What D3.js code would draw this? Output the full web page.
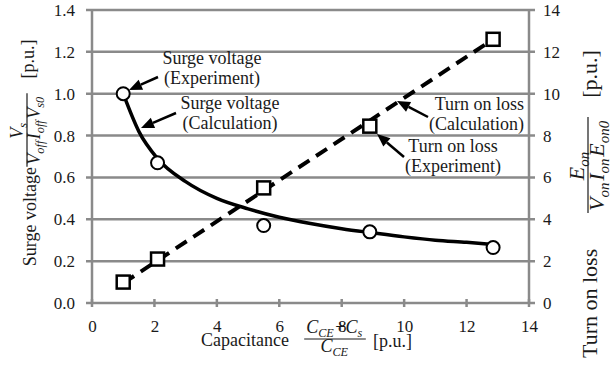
<!DOCTYPE html>
<html>
<head>
<meta charset="utf-8">
<script src="https://cdn.jsdelivr.net/npm/d3@7"></script>
<style>
  body { margin: 0; background: #fff; }
  svg, svg text { font-family: "Liberation Serif", "Times New Roman", Times, "DejaVu Serif", serif !important; }
</style>
</head>
<body>
<svg id="chart" width="614" height="369" font-family="Liberation Serif, serif"></svg>
<script>
// ---- data ----
const capTicks = [0, 2, 4, 6, 8, 10, 12, 14];
const surgeTicks = [0, 0.2, 0.4, 0.6, 0.8, 1.0, 1.2, 1.4];
const lossTicks = [0, 2, 4, 6, 8, 10, 12, 14];

// experiment points (capacitance p.u.)
const expCap = [1.0, 2.1, 5.5, 8.9, 12.85];
const surgeExp = [1.0, 0.67, 0.37, 0.34, 0.265];
const lossExp = [1.0, 2.1, 5.5, 8.45, 12.6];

// calculation curves
const surgeCalcCap = [1.0, 1.5, 2.1, 3, 4, 5, 6, 7, 8, 9, 10, 11, 12, 12.85];
const surgeCalc = [1.0, 0.82, 0.69, 0.58, 0.5, 0.45, 0.41, 0.38, 0.355, 0.335, 0.316, 0.30, 0.29, 0.28];
const lossCalcCap = [1.0, 12.85];
const lossCalc = [0.95, 12.6];

const svg = d3.select("#chart");
const pLeft = 92, pRight = 529, pTop = 10, pBottom = 303;

const x = d3.scaleLinear().domain([0, 14]).range([pLeft, pRight]);
const yL = d3.scaleLinear().domain([0, 1.4]).range([pBottom, pTop]);
const yR = d3.scaleLinear().domain([0, 14]).range([pBottom, pTop]);

const grey = "#8a8a8a";
const ink = "#1a1a1a";

// gridlines (they also make the outer ticks)
svg.append("g").selectAll("line").data(surgeTicks).join("line")
  .attr("x1", pLeft - 6).attr("x2", pRight + 6)
  .attr("y1", d => yL(d)).attr("y2", d => yL(d))
  .attr("stroke", grey).attr("stroke-width", 2.5);

// axis lines
svg.append("g").selectAll("line").data([0, 14]).join("line")
  .attr("x1", d => x(d)).attr("x2", d => x(d))
  .attr("y1", pTop).attr("y2", pBottom)
  .attr("stroke", grey).attr("stroke-width", 2.5);

// x ticks crossing the axis
svg.append("g").selectAll("line").data(capTicks).join("line")
  .attr("x1", d => x(d)).attr("x2", d => x(d))
  .attr("y1", pBottom - 4).attr("y2", pBottom + 4)
  .attr("stroke", grey).attr("stroke-width", 2.5);

// tick labels through d3 axes
function styleAxis(g) {
  g.attr("font-family", null).attr("font-size", null);
  g.select(".domain").remove();
  g.selectAll("line").remove();
  g.selectAll("text").attr("font-size", 17).attr("fill", ink);
}
svg.append("g").attr("transform", `translate(${pLeft},0)`)
  .call(d3.axisLeft(yL).tickValues(surgeTicks).tickFormat(d3.format(".1f")).tickSize(0).tickPadding(17))
  .call(styleAxis);
svg.append("g").attr("transform", `translate(${pRight},0)`)
  .call(d3.axisRight(yR).tickValues(lossTicks).tickFormat(d3.format("d")).tickSize(0).tickPadding(14))
  .call(styleAxis);
svg.append("g").attr("transform", `translate(0,${pBottom})`)
  .call(d3.axisBottom(x).tickValues(capTicks).tickFormat(d3.format("d")).tickSize(0).tickPadding(17))
  .call(styleAxis);

// ---- series ----
const lossLine = d3.line().x(d => x(d[0])).y(d => yR(d[1]));
svg.append("path")
  .datum(d3.zip(lossCalcCap, lossCalc))
  .attr("d", lossLine)
  .attr("fill", "none").attr("stroke", "#000")
  .attr("stroke-width", 4).attr("stroke-dasharray", "13,8");

const surgeLine = d3.line().x(d => x(d[0])).y(d => yL(d[1])).curve(d3.curveMonotoneX);
svg.append("path")
  .datum(d3.zip(surgeCalcCap, surgeCalc))
  .attr("d", surgeLine)
  .attr("fill", "none").attr("stroke", "#000").attr("stroke-width", 3.5);

const sq = 13;
svg.append("g").selectAll("rect").data(d3.zip(expCap, lossExp)).join("rect")
  .attr("x", d => x(d[0]) - sq / 2).attr("y", d => yR(d[1]) - sq / 2)
  .attr("width", sq).attr("height", sq)
  .attr("fill", "#fff").attr("stroke", "#000").attr("stroke-width", 2.5);

svg.append("g").selectAll("circle").data(d3.zip(expCap, surgeExp)).join("circle")
  .attr("cx", d => x(d[0])).attr("cy", d => yL(d[1])).attr("r", 6.5)
  .attr("fill", "#fff").attr("stroke", "#000").attr("stroke-width", 2);

// ---- annotations ----
function arrow(x1, y1, x2, y2) {
  const a = Math.atan2(y2 - y1, x2 - x1), L = 13, W = 5.5;
  const bx = x2 - L * Math.cos(a), by = y2 - L * Math.sin(a);
  svg.append("line").attr("x1", x1).attr("y1", y1).attr("x2", bx).attr("y2", by)
    .attr("stroke", "#000").attr("stroke-width", 2.5);
  svg.append("path")
    .attr("d", `M${x2},${y2}L${bx - W * Math.sin(a)},${by + W * Math.cos(a)}L${bx + W * Math.sin(a)},${by - W * Math.cos(a)}Z`)
    .attr("fill", "#000");
}
function label(lines, tx, ty, anchor) {
  const t = svg.append("text").attr("font-size", 18).attr("fill", ink).attr("text-anchor", anchor);
  lines.forEach((s, i) => t.append("tspan").attr("x", tx).attr("y", ty + i * 20).text(s));
}

// surge voltage (experiment) -> first circle
arrow(158, 77, 129, 90);
label(["Surge voltage", "(Experiment)"], 212, 64, "middle");
// surge voltage (calculation)
arrow(176, 113, 141, 128);
label(["Surge voltage", "(Calculation)"], 230, 109, "middle");
// turn on loss (calculation)
arrow(428, 117, 397, 101);
label(["Turn on loss", "(Calculation)"], 524, 110, "end");
// turn on loss (experiment)
arrow(404, 157, 377, 134);
label(["Turn on loss", "(Experiment)"], 453, 152, "middle");

// ---- axis titles with fractions ----
// parts: [text, sub, upright]
function mathText(parent, parts, size) {
  const t = parent.append("text").attr("font-size", size).attr("fill", ink);
  parts.forEach(p => {
    t.append("tspan").attr("font-style", p[2] ? "normal" : "italic").text(p[0]);
    if (p[1]) {
      t.append("tspan").attr("font-style", "italic").attr("font-size", size * 0.68).attr("dy", size * 0.22).text(p[1]);
      t.append("tspan").attr("dy", -size * 0.22).text("\u200a");
    }
  });
  return t;
}
function fraction(parent, cx, barY, num, den, size, up, down) {
  const g = parent.append("g");
  const n = mathText(g, num, size), d = mathText(g, den, size);
  const wn = n.node().getComputedTextLength(), wd = d.node().getComputedTextLength();
  const w = Math.max(wn, wd) + 4;
  n.attr("x", cx - wn / 2).attr("y", barY - up);
  d.attr("x", cx - wd / 2).attr("y", barY + down);
  g.append("line").attr("x1", cx - w / 2).attr("x2", cx + w / 2)
    .attr("y1", barY).attr("y2", barY).attr("stroke", ink).attr("stroke-width", 1.2);
  return w;
}

// x title
svg.append("text").attr("x", 289).attr("y", 346).attr("font-size", 18).attr("fill", ink)
  .attr("text-anchor", "end").text("Capacitance");
fraction(svg, 335, 339, [["C", "CE"], ["+", null, true], ["C", "s"]], [["C", "CE"]], 18, 6, 13);
svg.append("text").attr("x", 373).attr("y", 347).attr("font-size", 18).attr("fill", ink).text("[p.u.]");

// left title (rotated)
const lt = svg.append("g").attr("transform", "rotate(-90)");
lt.append("text").attr("x", -167).attr("y", 36).attr("font-size", 18).attr("fill", ink)
  .attr("text-anchor", "end").text("Surge voltage");
fraction(lt, -130, 27, [["V", "s"]], [["V", "off"], ["I", "off"], ["V", "s0"]], 18, 4, 13);
lt.append("text").attr("x", -59).attr("y", 34).attr("font-size", 18).attr("fill", ink)
  .attr("text-anchor", "middle").text("[p.u.]");

// right title (rotated, larger type)
const rt = svg.append("g").attr("transform", "rotate(-90)");
rt.append("text").attr("x", -358).attr("y", 597).attr("font-size", 22).attr("fill", ink)
  .text("Turn on loss");
fraction(rt, -165, 588, [["E", "on"]], [["V", "on"], ["I", "on"], ["E", "on0"]], 22, 4, 16);
rt.append("text").attr("x", -74).attr("y", 597).attr("font-size", 22).attr("fill", ink)
  .attr("text-anchor", "middle").text("[p.u.]");
</script>
</body>
</html>
